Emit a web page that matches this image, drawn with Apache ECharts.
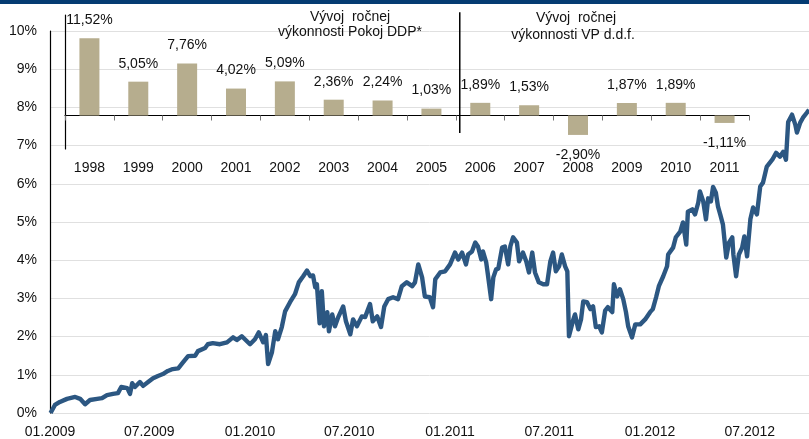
<!DOCTYPE html>
<html>
<head>
<meta charset="utf-8">
<script src="https://cdn.jsdelivr.net/npm/echarts@6/dist/echarts.min.js"></script>
<style>
html, body { margin: 0; padding: 0; background: #fff; }
#perf-chart { width: 809px; height: 439px; }
</style>
</head>
<body>
<div id="perf-chart"></div>
<script>
// annual returns (inset bar chart)
var years = ['1998', '1999', '2000', '2001', '2002', '2003', '2004', '2005', '2006', '2007', '2008', '2009', '2010', '2011'];
var yearReturns = [11.52, 5.05, 7.76, 4.02, 5.09, 2.36, 2.24, 1.03, 1.89, 1.53, -2.90, 1.87, 1.89, -1.11];
// where the Pokoj DDP part ends and VP d.d.f. starts (category units)
var fundSplit = 8.08;

// cumulative performance, %
var navPoints = [
    ['2009-01-02', 0.00], ['2009-01-10', 0.21], ['2009-01-19', 0.29], ['2009-02-01', 0.37],
    ['2009-02-16', 0.42], ['2009-02-25', 0.37], ['2009-03-06', 0.23], ['2009-03-15', 0.34],
    ['2009-03-28', 0.37], ['2009-04-06', 0.39], ['2009-04-15', 0.47], ['2009-04-26', 0.50],
    ['2009-05-05', 0.52], ['2009-05-11', 0.68], ['2009-05-22', 0.65], ['2009-05-27', 0.50],
    ['2009-05-31', 0.78], ['2009-06-05', 0.68], ['2009-06-14', 0.81], ['2009-06-20', 0.71],
    ['2009-06-29', 0.81], ['2009-07-08', 0.91], ['2009-07-17', 0.97], ['2009-07-26', 1.02],
    ['2009-08-04', 1.10], ['2009-08-13', 1.15], ['2009-08-23', 1.17], ['2009-09-01', 1.33],
    ['2009-09-10', 1.49], ['2009-09-23', 1.50], ['2009-09-28', 1.62], ['2009-10-11', 1.70],
    ['2009-10-16', 1.80], ['2009-10-25', 1.83], ['2009-11-07', 1.80], ['2009-11-20', 1.85],
    ['2009-12-01', 1.98], ['2009-12-08', 1.91], ['2009-12-17', 2.01], ['2010-01-01', 1.80],
    ['2010-01-10', 1.93], ['2010-01-17', 2.11], ['2010-01-25', 1.85], ['2010-01-30', 2.04],
    ['2010-02-03', 1.28], ['2010-02-10', 1.59], ['2010-02-16', 2.14], ['2010-02-21', 1.93],
    ['2010-02-28', 2.25], ['2010-03-06', 2.66], ['2010-03-15', 2.90], ['2010-03-24', 3.11],
    ['2010-03-31', 3.42], ['2010-04-08', 3.58], ['2010-04-15', 3.73], ['2010-04-21', 3.58],
    ['2010-04-26', 3.60], ['2010-04-30', 3.29], ['2010-05-03', 3.37], ['2010-05-08', 2.35],
    ['2010-05-12', 3.19], ['2010-05-16', 2.27], ['2010-05-22', 2.64], ['2010-05-25', 2.14],
    ['2010-05-31', 2.58], ['2010-06-05', 2.27], ['2010-06-11', 2.51], ['2010-06-20', 2.79],
    ['2010-06-25', 2.40], ['2010-07-03', 2.06], ['2010-07-08', 2.45], ['2010-07-15', 2.27],
    ['2010-07-24', 2.53], ['2010-07-30', 2.51], ['2010-08-08', 2.85], ['2010-08-13', 2.40],
    ['2010-08-21', 2.53], ['2010-08-28', 2.25], ['2010-09-03', 2.79], ['2010-09-10', 2.98],
    ['2010-09-19', 3.03], ['2010-09-28', 2.98], ['2010-10-05', 3.32], ['2010-10-14', 3.42],
    ['2010-10-24', 3.32], ['2010-10-29', 3.42], ['2010-11-04', 3.89], ['2010-11-11', 3.55],
    ['2010-11-16', 3.05], ['2010-11-25', 3.03], ['2010-12-01', 2.77], ['2010-12-05', 3.50],
    ['2010-12-14', 3.68], ['2010-12-23', 3.71], ['2011-01-01', 3.89], ['2011-01-10', 4.20],
    ['2011-01-16', 4.02], ['2011-01-23', 4.20], ['2011-01-30', 3.89], ['2011-02-03', 4.15],
    ['2011-02-10', 4.23], ['2011-02-16', 4.46], ['2011-02-21', 4.36], ['2011-02-27', 4.02],
    ['2011-03-02', 4.23], ['2011-03-08', 3.94], ['2011-03-11', 3.63], ['2011-03-17', 2.98],
    ['2011-03-21', 3.55], ['2011-03-26', 3.76], ['2011-03-30', 3.78], ['2011-04-06', 4.33],
    ['2011-04-11', 4.36], ['2011-04-17', 3.89], ['2011-04-21', 4.36], ['2011-04-26', 4.60],
    ['2011-05-03', 4.46], ['2011-05-07', 3.97], ['2011-05-14', 4.20], ['2011-05-20', 3.97],
    ['2011-05-25', 3.68], ['2011-05-31', 4.20], ['2011-06-05', 3.68], ['2011-06-12', 3.42],
    ['2011-06-20', 3.37], ['2011-06-27', 3.37], ['2011-07-03', 3.97], ['2011-07-08', 4.20],
    ['2011-07-13', 3.71], ['2011-07-19', 3.84], ['2011-07-24', 4.15], ['2011-07-30', 3.84],
    ['2011-08-03', 3.71], ['2011-08-06', 2.01], ['2011-08-14', 2.45], ['2011-08-17', 2.58],
    ['2011-08-23', 2.19], ['2011-08-28', 2.45], ['2011-09-01', 2.92], ['2011-09-08', 2.90],
    ['2011-09-14', 2.72], ['2011-09-19', 2.79], ['2011-09-24', 2.25], ['2011-09-30', 2.27],
    ['2011-10-05', 2.11], ['2011-10-11', 2.68], ['2011-10-16', 2.77], ['2011-10-24', 2.64],
    ['2011-10-27', 3.37], ['2011-11-02', 3.05], ['2011-11-07', 3.24], ['2011-11-13', 2.98],
    ['2011-11-18', 2.64], ['2011-11-22', 2.27], ['2011-11-29', 1.98], ['2011-12-05', 2.32],
    ['2011-12-14', 2.32], ['2011-12-23', 2.45], ['2012-01-01', 2.64], ['2012-01-06', 2.72],
    ['2012-01-12', 3.03], ['2012-01-17', 3.32], ['2012-01-25', 3.58], ['2012-02-01', 3.84],
    ['2012-02-03', 4.15], ['2012-02-12', 4.33], ['2012-02-17', 4.60], ['2012-02-25', 4.75],
    ['2012-03-01', 4.99], ['2012-03-07', 4.41], ['2012-03-10', 5.27], ['2012-03-18', 5.33],
    ['2012-03-23', 5.20], ['2012-03-29', 5.51], ['2012-04-01', 5.80], ['2012-04-07', 5.54],
    ['2012-04-12', 5.07], ['2012-04-16', 5.62], ['2012-04-21', 5.54], ['2012-04-25', 5.92],
    ['2012-04-30', 5.77], ['2012-05-04', 5.40], ['2012-05-08', 5.20], ['2012-05-13', 4.93],
    ['2012-05-19', 4.07], ['2012-05-24', 4.46], ['2012-05-30', 4.60], ['2012-06-01', 4.15],
    ['2012-06-06', 3.58], ['2012-06-11', 4.15], ['2012-06-17', 4.33], ['2012-06-21', 4.62],
    ['2012-06-26', 4.10], ['2012-07-02', 5.07], ['2012-07-07', 5.38], ['2012-07-14', 5.20],
    ['2012-07-20', 5.93], ['2012-07-25', 6.03], ['2012-08-01', 6.45], ['2012-08-11', 6.63],
    ['2012-08-18', 6.81], ['2012-08-25', 6.71], ['2012-08-31', 6.84], ['2012-09-05', 6.63],
    ['2012-09-09', 7.62], ['2012-09-16', 7.81], ['2012-09-22', 7.55], ['2012-09-25', 7.34],
    ['2012-10-01', 7.60], ['2012-10-06', 7.73], ['2012-10-13', 7.86], ['2012-10-17', 7.94]
];

var dateStart = '2009-01-01';
var dateEnd = '2012-10-17';
var dateTicks = ['2009-01-01', '2009-07-01', '2010-01-01', '2010-07-01', '2011-01-01', '2011-07-01', '2012-01-01', '2012-07-01'];

var perf_chartDom = document.getElementById('perf-chart');
var perf_myChart = echarts.init(perf_chartDom);
var perf_option;

var perf_font = 'Liberation Sans, Arial, sans-serif';
var perf_textColor = '#111';

function perf_time(s) {
    return echarts.time.parse(s).getTime();
}
function perf_pct(v) {
    return v.toFixed(2).replace('.', ',') + '%';
}
function perf_titleLine(text, x, y) {
    return {
        type: 'text',
        x: x,
        y: y,
        z: 100,
        silent: true,
        style: {
            text: text,
            textAlign: 'center',
            textVerticalAlign: 'middle',
            font: '14px ' + perf_font,
            fill: perf_textColor
        }
    };
}

var perf_lineData = navPoints.map(function (p) {
    return [perf_time(p[0]), p[1]];
});

var perf_barData = yearReturns.map(function (v) {
    return {
        value: v,
        label: {
            position: v < 0 ? 'bottom' : 'top',
            distance: v < 0 ? 13 : 11
        }
    };
});

perf_option = {
    animation: false,
    backgroundColor: '#fff',
    textStyle: { fontFamily: perf_font },
    graphic: [
        {
            type: 'rect',
            shape: { x: 0, y: 0, width: 809, height: 4 },
            style: { fill: '#043b72' },
            z: 100,
            silent: true
        },
        perf_titleLine('Vývoj  ročnej', 350, 17),
        perf_titleLine('výkonnosti Pokoj DDP*', 350, 32),
        perf_titleLine('Vývoj  ročnej', 576, 18),
        perf_titleLine('výkonnosti VP d.d.f.', 573, 35)
    ],
    grid: [
        { left: 50, right: 0, top: 31, bottom: 25 },
        { left: 65, width: 684, top: 15, height: 134 }
    ],
    xAxis: [
        {
            type: 'value',
            gridIndex: 0,
            min: perf_time(dateStart),
            max: perf_time(dateEnd),
            axisLine: { show: false },
            axisTick: { show: false },
            splitLine: { show: false },
            axisLabel: {
                customValues: dateTicks.map(perf_time),
                margin: 12,
                fontSize: 14,
                color: perf_textColor,
                formatter: function (v) {
                    var d = new Date(v);
                    var m = d.getMonth() + 1;
                    return (m < 10 ? '0' + m : m) + '.' + d.getFullYear();
                }
            }
        },
        {
            type: 'category',
            gridIndex: 1,
            position: 'bottom',
            data: years,
            axisLine: { onZero: true, lineStyle: { color: '#000', width: 1.2 } },
            axisTick: { show: true, length: 5, lineStyle: { color: '#777' } },
            axisLabel: { show: false }
        },
        {
            type: 'category',
            gridIndex: 1,
            position: 'bottom',
            data: years,
            axisLine: { show: false, onZero: false },
            axisTick: { show: false },
            axisLabel: { margin: 12, fontSize: 14, color: perf_textColor }
        },
        {
            type: 'value',
            gridIndex: 1,
            position: 'top',
            min: 0,
            max: years.length,
            show: false
        }
    ],
    yAxis: [
        {
            type: 'value',
            gridIndex: 0,
            min: 0,
            max: 10,
            interval: 1,
            axisLine: { show: true, lineStyle: { color: '#000', width: 1.2 } },
            axisTick: { show: false },
            axisLabel: { formatter: '{value}%', margin: 13, fontSize: 14, color: perf_textColor },
            splitLine: { lineStyle: { color: '#e0e0e0', width: 1 } }
        },
        {
            type: 'value',
            gridIndex: 1,
            min: -5,
            max: 15,
            interval: 5,
            axisLine: { show: true, onZero: false, lineStyle: { color: '#000', width: 1.2 } },
            axisTick: { show: false },
            axisLabel: { show: false },
            splitLine: { show: false }
        }
    ],
    series: [
        {
            name: 'performance',
            type: 'line',
            xAxisIndex: 0,
            yAxisIndex: 0,
            data: perf_lineData,
            showSymbol: false,
            symbol: 'none',
            lineStyle: { color: '#2c5782', width: 4.4, join: 'round' },
            itemStyle: { color: '#2c5782' },
            z: 3
        },
        {
            name: 'annual',
            type: 'bar',
            xAxisIndex: 1,
            yAxisIndex: 1,
            barWidth: 20,
            data: perf_barData,
            itemStyle: { color: '#b6ad8e' },
            label: {
                show: true,
                fontSize: 14,
                color: perf_textColor,
                formatter: function (p) { return perf_pct(p.value); }
            }
        },
        {
            name: 'split',
            type: 'line',
            xAxisIndex: 3,
            yAxisIndex: 1,
            data: [[fundSplit, 15.4], [fundSplit, -2.6]],
            symbol: 'none',
            clip: false,
            silent: true,
            lineStyle: { color: '#000', width: 1.5 }
        }
    ]
};

if (perf_option && typeof perf_option === 'object') {
    perf_myChart.setOption(perf_option);
}
</script>
</body>
</html>
